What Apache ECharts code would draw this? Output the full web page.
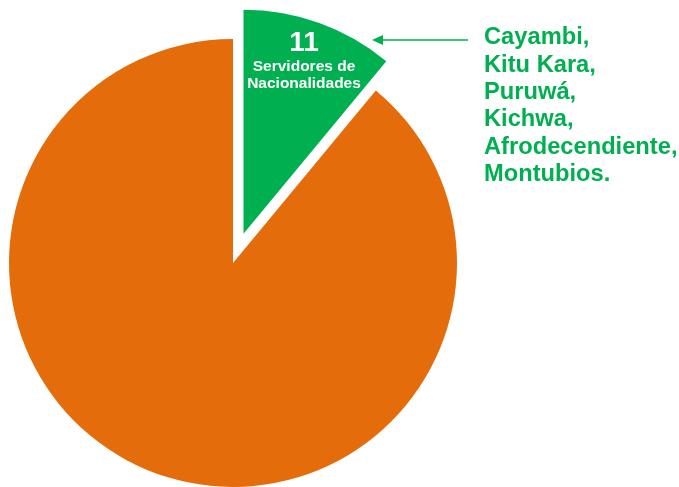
<!DOCTYPE html>
<html><head><meta charset="utf-8">
<script src="https://cdn.jsdelivr.net/npm/echarts@6/dist/echarts.min.js"></script>
<style>html,body{margin:0;padding:0;background:#fff}#c{width:679px;height:487px}</style>
</head><body><div id="c"></div>
<script>
const categories = ['Servidores de Nacionalidades', 'Otros servidores'];
const values = [11, 89];
const nationalities = ['Cayambi,', 'Kitu Kara,', 'Puruwá,', 'Kichwa,', 'Afrodecendiente,', 'Montubios.'];
const colors = ['#00B050', '#E46C0A'];

const F = '"Liberation Sans", Arial, sans-serif';
const chart = echarts.init(document.getElementById('c'), null, {renderer: 'canvas'});
chart.setOption({
  animation: false,
  series: [{
    type: 'pie',
    center: [233, 263],
    radius: 224,
    startAngle: 90,
    clockwise: true,
    selectedMode: 'single',
    selectedOffset: 31,
    emphasis: {disabled: true},
    label: {show: false},
    labelLine: {show: false},
    data: categories.map((c, i) => ({
      name: c,
      value: values[i],
      selected: i === 0,
      itemStyle: {color: colors[i]}
    }))
  }],
  graphic: [
    {type: 'text', z: 100, x: 304, y: 43, style: {text: String(values[0]), fill: '#fff', font: 'bold 28px ' + F, align: 'center', verticalAlign: 'middle'}},
    {type: 'text', z: 100, x: 304, y: 67, style: {text: 'Servidores de', fill: '#fff', font: 'bold 15.5px ' + F, align: 'center', verticalAlign: 'middle'}},
    {type: 'text', z: 100, x: 304, y: 84, style: {text: 'Nacionalidades', fill: '#fff', font: 'bold 15.5px ' + F, align: 'center', verticalAlign: 'middle'}},
    {type: 'line', z: 100, shape: {x1: 378, y1: 40, x2: 468, y2: 40}, style: {stroke: '#00B050', lineWidth: 1.5}},
    {type: 'polygon', z: 100, shape: {points: [[372, 40], [383, 35], [383, 45]]}, style: {fill: '#00B050'}},
    {type: 'text', z: 100, left: 484, top: 24, style: {
      text: nationalities.join('\n'),
      fill: '#00B050',
      font: 'bold 23.7px ' + F,
      lineHeight: 27.4
    }}
  ]
});
</script></body></html>
